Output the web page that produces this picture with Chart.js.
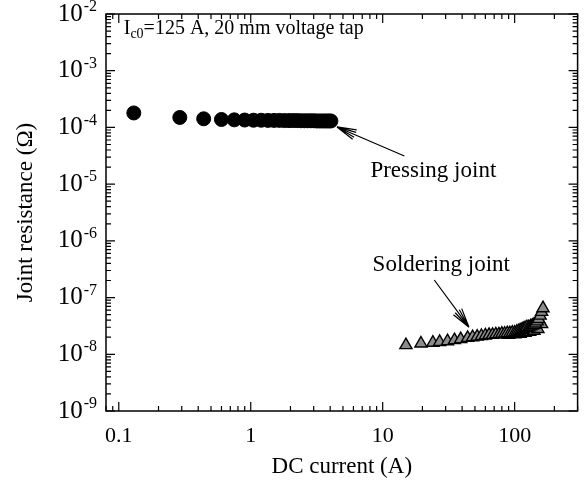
<!DOCTYPE html>
<html>
<head>
<meta charset="utf-8">
<script src="https://cdn.jsdelivr.net/npm/chart.js@4"></script>
<style>
  html, body { margin: 0; padding: 0; background: #fff; }
  #wrap { width: 586px; height: 490px; }
</style>
</head>
<body>
<div id="wrap"><canvas id="myChart" width="586" height="490"></canvas></div>
<script>
// Pressing joint (filled circles)
const pressX = [0.13, 0.29, 0.44, 0.6, 0.75, 0.9, 1.05, 1.2, 1.35, 1.5, 1.65, 1.8, 1.95, 2.1, 2.25, 2.4,
  2.55, 2.7, 2.85, 3.0, 3.15, 3.3, 3.45, 3.6, 3.75, 3.9, 4.05];
const pressY = [1.8e-4, 1.5e-4, 1.42e-4, 1.38e-4, 1.36e-4, 1.35e-4, 1.34e-4, 1.34e-4, 1.33e-4, 1.33e-4,
  1.33e-4, 1.32e-4, 1.32e-4, 1.32e-4, 1.32e-4, 1.31e-4, 1.31e-4, 1.31e-4, 1.31e-4, 1.31e-4, 1.3e-4,
  1.3e-4, 1.3e-4, 1.3e-4, 1.3e-4, 1.3e-4, 1.3e-4];

// Soldering joint (grey triangles), two runs
const solderX = [15, 19.5, 24, 27, 31, 35, 39, 44, 48, 52, 56, 60, 64, 68, 72, 76, 80, 84, 88, 92, 96,
  100, 104, 108, 112, 116, 120, 124, 128, 132, 136, 140, 144, 148, 152, 156, 160, 164];
const solderY = [1.45e-8, 1.55e-8, 1.6e-8, 1.65e-8, 1.7e-8, 1.78e-8, 1.85e-8, 1.95e-8, 2.0e-8, 2.05e-8,
  2.1e-8, 2.15e-8, 2.2e-8, 2.2e-8, 2.25e-8, 2.25e-8, 2.3e-8, 2.3e-8, 2.35e-8, 2.35e-8, 2.4e-8, 2.4e-8,
  2.5e-8, 2.6e-8, 2.7e-8, 2.8e-8, 2.9e-8, 3.0e-8, 3.0e-8, 3.1e-8, 3.2e-8, 3.3e-8, 3.5e-8, 3.8e-8,
  4.2e-8, 4.8e-8, 5.6e-8, 6.5e-8];
const solder2X = [90, 100, 110, 120, 130, 140, 150, 160];
const solder2Y = [2.2e-8, 2.25e-8, 2.3e-8, 2.4e-8, 2.5e-8, 2.6e-8, 2.8e-8, 3.4e-8];

// Axis ticks
const xTicks = [0.1, 1, 10, 100];
const yTicks = [1e-9, 1e-8, 1e-7, 1e-6, 1e-5, 1e-4, 1e-3, 1e-2];

const serif = '"Liberation Serif", "Times New Roman", serif';
const toPts = (xs, ys) => xs.map((x, i) => ({ x: x, y: ys[i] }));

// inward ticks, frame, y labels with exponents, annotations
const decor = {
  id: 'decor',
  afterDraw(chart) {
    const { ctx, chartArea: a, scales: { x, y } } = chart;
    ctx.save();
    ctx.strokeStyle = '#000';
    ctx.lineWidth = 1.5;
    ctx.strokeRect(a.left, a.top, a.right - a.left, a.bottom - a.top);

    ctx.lineWidth = 1.2;
    ctx.beginPath();
    for (let k = -2; k <= 2; k++) {
      for (let m = 1; m <= 9; m++) {
        const v = m * Math.pow(10, k);
        if (v < x.min || v > x.max) continue;
        const px = x.getPixelForValue(v);
        const len = m === 1 ? 9 : 5;
        ctx.moveTo(px, a.bottom); ctx.lineTo(px, a.bottom - len);
        ctx.moveTo(px, a.top); ctx.lineTo(px, a.top + len);
      }
    }
    for (let k = -9; k <= -2; k++) {
      for (let m = 1; m <= 9; m++) {
        const v = m * Math.pow(10, k);
        if (v < y.min * 0.999 || v > y.max * 1.001) continue;
        const py = y.getPixelForValue(v);
        const len = m === 1 ? 9 : 5;
        ctx.moveTo(a.left, py); ctx.lineTo(a.left + len, py);
        ctx.moveTo(a.right, py); ctx.lineTo(a.right - len, py);
      }
    }
    ctx.stroke();

    // y tick labels 10^n
    ctx.fillStyle = '#000';
    ctx.textBaseline = 'middle';
    yTicks.forEach(v => {
      const py = y.getPixelForValue(v);
      const ex = String(Math.round(Math.log10(v)));
      ctx.font = '16px ' + serif;
      const ew = ctx.measureText(ex).width;
      ctx.textAlign = 'right';
      ctx.fillText(ex, a.left - 9, py - 7);
      ctx.font = '25px ' + serif;
      ctx.fillText('10', a.left - 10 - ew, py);
    });

    // top-left note
    ctx.textBaseline = 'alphabetic';
    ctx.textAlign = 'left';
    let tx = x.getPixelForValue(0.109), ty = y.getPixelForValue(4.4e-3);
    ctx.font = '20px ' + serif;
    ctx.fillText('I', tx, ty);
    tx += ctx.measureText('I').width;
    ctx.font = '14px ' + serif;
    ctx.fillText('c0', tx, ty + 4);
    tx += ctx.measureText('c0').width;
    ctx.font = '20px ' + serif;
    ctx.fillText('=125 A, 20 mm voltage tap', tx, ty);

    // labels
    ctx.textAlign = 'center';
    ctx.textBaseline = 'middle';
    ctx.font = '23px ' + serif;
    ctx.fillText('Pressing joint', x.getPixelForValue(24.2), y.getPixelForValue(1.7e-5));
    ctx.fillText('Soldering joint', x.getPixelForValue(27.8), y.getPixelForValue(3.74e-7));

    // arrows
    const arrow = (x0, y0, x1, y1) => {
      const ax = x.getPixelForValue(x0), ay = y.getPixelForValue(y0);
      const bx = x.getPixelForValue(x1), by = y.getPixelForValue(y1);
      const ang = Math.atan2(by - ay, bx - ax);
      ctx.lineWidth = 1.2;
      ctx.beginPath();
      ctx.moveTo(ax, ay); ctx.lineTo(bx, by);
      [-0.26, -0.13, 0.13, 0.26].forEach(d => {
        ctx.moveTo(bx, by);
        ctx.lineTo(bx - 20 * Math.cos(ang + d), by - 20 * Math.sin(ang + d));
      });
      ctx.stroke();
    };
    arrow(14.6, 3.13e-5, 4.5, 1.02e-4);
    arrow(24.6, 2.04e-7, 45.1, 3.0e-8);
    ctx.restore();
  }
};

const ctx = document.getElementById('myChart').getContext('2d');
new Chart(ctx, {
  type: 'scatter',
  data: {
    datasets: [
      { label: 'Pressing joint', data: toPts(pressX, pressY), pointStyle: 'circle', pointRadius: 7,
        backgroundColor: '#000', borderColor: '#000', borderWidth: 1 },
      { label: 'Soldering joint', data: toPts(solderX, solderY), pointStyle: 'triangle', pointRadius: 7,
        backgroundColor: '#8c8c8c', borderColor: '#000', borderWidth: 1.4 },
      { label: 'Soldering joint 2', data: toPts(solder2X, solder2Y), pointStyle: 'triangle', pointRadius: 7,
        backgroundColor: '#8c8c8c', borderColor: '#000', borderWidth: 1.4 }
    ]
  },
  options: {
    responsive: false,
    animation: false,
    layout: { padding: { top: 14, right: 4, left: 0, bottom: 0 } },
    plugins: { legend: { display: false }, tooltip: { enabled: false } },
    scales: {
      x: {
        type: 'logarithmic', min: 0.08, max: 300,
        afterBuildTicks: s => { s.ticks = xTicks.map(v => ({ value: v })); },
        afterFit: s => { s.height = 79; },
        grid: { display: false, drawTicks: false },
        border: { display: false },
        ticks: { color: '#000', font: { family: serif, size: 22 }, padding: 12, maxRotation: 0,
          callback: v => String(v) },
        title: { display: true, text: 'DC current (A)', color: '#000',
          font: { family: serif, size: 23 }, padding: { top: 0, bottom: 9 } }
      },
      y: {
        type: 'logarithmic', min: 1e-9, max: 1e-2,
        afterBuildTicks: s => { s.ticks = yTicks.map(v => ({ value: v })); },
        afterFit: s => { s.width = 106; },
        grid: { display: false, drawTicks: false },
        border: { display: false },
        ticks: { display: false },
        title: { display: true, text: 'Joint resistance (Ω)', color: '#000',
          font: { family: serif, size: 23 }, padding: { top: 12, bottom: 0 } }
      }
    }
  },
  plugins: [decor]
});
</script>
</body>
</html>
